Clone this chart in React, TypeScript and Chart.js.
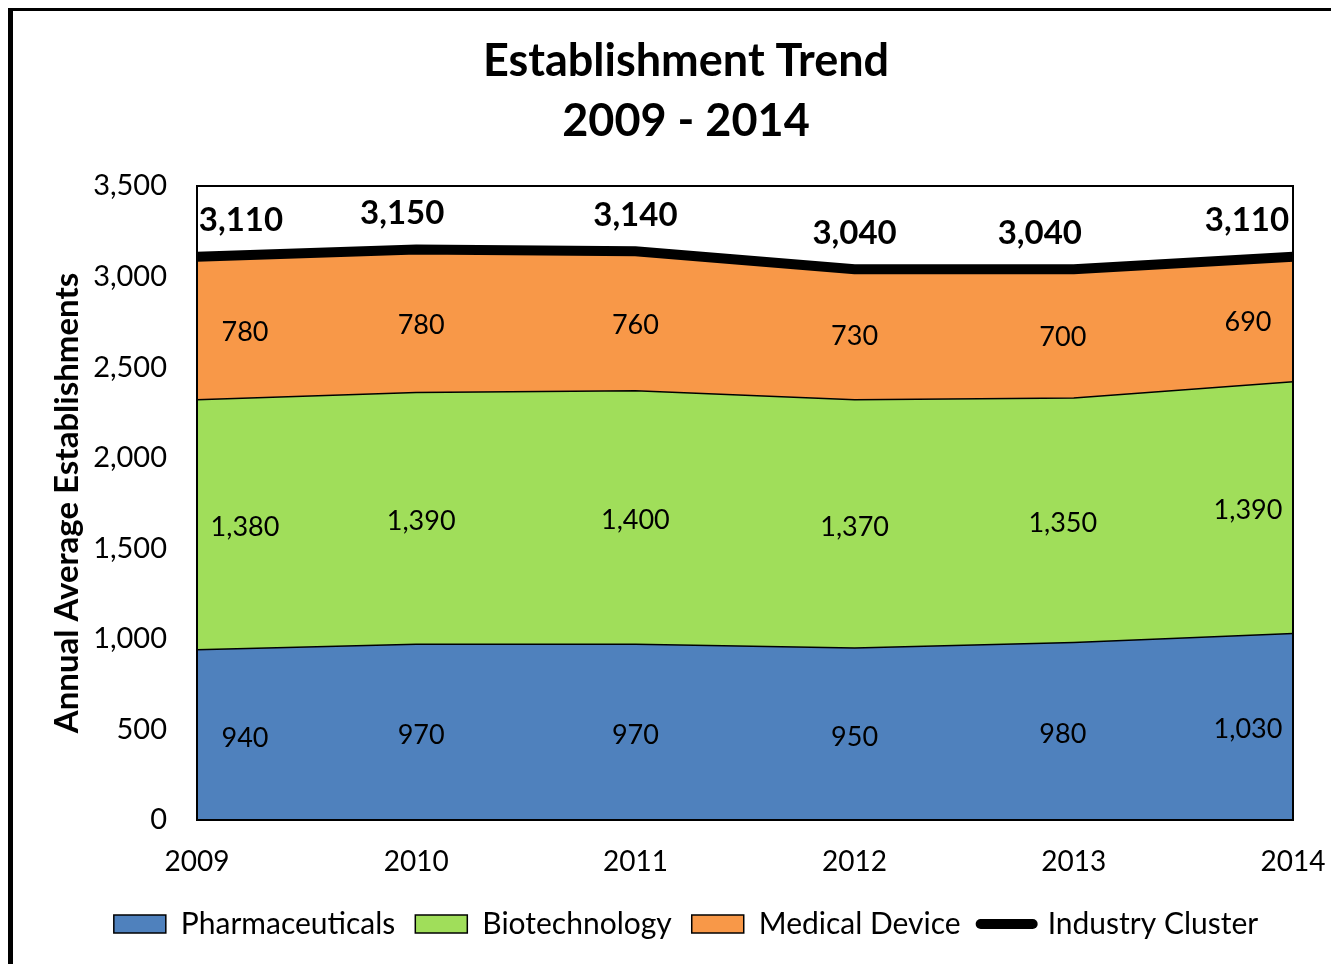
import React, { useEffect, useRef } from "react";
import { Chart, registerables } from "chart.js";

Chart.register(...registerables);

const years = ["2009", "2010", "2011", "2012", "2013", "2014"];
const pharmaceuticals = [940, 970, 970, 950, 980, 1030];
const biotechnology = [1380, 1390, 1400, 1370, 1350, 1390];
const medicalDevice = [780, 780, 760, 730, 700, 690];
const industryCluster = [3110, 3150, 3140, 3040, 3040, 3110];
const seriesNames = ["Pharmaceuticals", "Biotechnology", "Medical Device", "Industry Cluster"];
const titleLines = ["Establishment Trend", "2009 - 2014"];
const yAxisTitle = "Annual Average Establishments";

const FONT = "Lato, 'Open Sans', sans-serif";
const BLUE = "#4F81BD";
const GREEN = "#A0DE5A";
const ORANGE = "#F89848";

// label placement nudges (pixels) per category, mimicking the original's label layout
const bandLabelShift = [48, 5, 0, 0, -11, -45];
const totalLabelShift = [44, -14, 0, 0, -34, -46];

const fmt = (v: number) => Number(v).toLocaleString("en-US");

const labelsPlugin = {
  id: "areaLabels",
  afterDatasetsDraw(chart: any) {
    const { ctx, chartArea, scales } = chart;
    const xs = scales.x;
    const ys = scales.y;
    ctx.save();
    ctx.strokeStyle = "#000";
    ctx.lineWidth = 2;
    ctx.strokeRect(chartArea.left, chartArea.top, chartArea.right - chartArea.left, chartArea.bottom - chartArea.top);

    const stacks = [pharmaceuticals, biotechnology, medicalDevice];
    const n = years.length;
    ctx.fillStyle = "#000";
    ctx.textAlign = "center";
    ctx.textBaseline = "middle";
    ctx.font = `27px ${FONT}`;
    for (let j = 0; j < n; j++) {
      let base = 0;
      for (let s = 0; s < stacks.length; s++) {
        const v = stacks[s][j];
        const y = ys.getPixelForValue(base + v / 2) + 3;
        const x = xs.getPixelForValue(j) + bandLabelShift[j];
        ctx.fillText(fmt(v), x, y);
        base += v;
      }
    }
    ctx.font = `bold 33px ${FONT}`;
    for (let j = 0; j < n; j++) {
      const v = industryCluster[j];
      const y = ys.getPixelForValue(v) - 36;
      const x = xs.getPixelForValue(j) + totalLabelShift[j];
      ctx.fillText(fmt(v), x, y);
    }
    ctx.restore();
  },
};

export default function App() {
  const ref = useRef<HTMLCanvasElement | null>(null);
  useEffect(() => {
    document.documentElement.style.overflow = "hidden";
    document.body.style.overflow = "hidden";
    const c = ref.current;
    if (!c) return;
    const chart = new Chart(c, {
      type: "line",
      data: {
        labels: years,
        datasets: [
          {
            label: seriesNames[0],
            data: pharmaceuticals,
            backgroundColor: BLUE,
            borderColor: "#000",
            borderWidth: 1.5,
            fill: "origin",
            pointRadius: 0,
            stack: "a",
          },
          {
            label: seriesNames[1],
            data: biotechnology,
            backgroundColor: GREEN,
            borderColor: "#000",
            borderWidth: 1.5,
            fill: "-1",
            pointRadius: 0,
            stack: "a",
          },
          {
            label: seriesNames[2],
            data: medicalDevice,
            backgroundColor: ORANGE,
            borderColor: "#000",
            borderWidth: 1.5,
            fill: "-1",
            pointRadius: 0,
            stack: "a",
          },
          {
            label: seriesNames[3],
            data: industryCluster,
            borderColor: "#000",
            backgroundColor: "#000",
            borderWidth: 10,
            fill: false,
            pointRadius: 0,
            stack: "b",
            order: -1,
          },
        ],
      },
      options: {
        animation: false,
        responsive: true,
        maintainAspectRatio: false,
        layout: { padding: { left: 66, right: 46, top: 0, bottom: 15 } },
        plugins: {
          filler: { drawTime: "beforeDatasetsDraw" },
          tooltip: { enabled: false },
          title: {
            display: true,
            text: titleLines,
            color: "#000",
            font: { family: FONT, size: 45, weight: "bold", lineHeight: 60 / 45 },
            padding: { top: 20, bottom: 35 },
          },
          legend: {
            position: "bottom",
            labels: {
              usePointStyle: true,
              pointStyleWidth: 52,
              boxHeight: 18,
              padding: 20,
              color: "#000",
              font: { family: FONT, size: 30 },
              generateLabels: () => [
                { text: seriesNames[0], fillStyle: BLUE, strokeStyle: "#000", lineWidth: 1.5, pointStyle: "rect", datasetIndex: 0, fontColor: "#000" },
                { text: seriesNames[1], fillStyle: GREEN, strokeStyle: "#000", lineWidth: 1.5, pointStyle: "rect", datasetIndex: 1, fontColor: "#000" },
                { text: seriesNames[2], fillStyle: ORANGE, strokeStyle: "#000", lineWidth: 1.5, pointStyle: "rect", datasetIndex: 2, fontColor: "#000" },
                { text: seriesNames[3], fillStyle: "#000", strokeStyle: "#000", lineWidth: 10, lineCap: "round", pointStyle: "line", datasetIndex: 3, fontColor: "#000" },
              ] as any,
            },
          },
        },
        scales: {
          x: {
            grid: { display: false, drawTicks: false },
            border: { display: false },
            ticks: { color: "#000", font: { family: FONT, size: 28 }, padding: 25, maxRotation: 0 },
            afterFit: (s: any) => {
              s.height = 69;
              s.paddingLeft = 0;
              s.paddingRight = 0;
            },
          },
          y: {
            stacked: true,
            min: 0,
            max: 3500,
            grid: { display: false, drawTicks: false },
            border: { display: false },
            ticks: {
              stepSize: 500,
              padding: 30,
              color: "#000",
              font: { family: FONT, size: 29 },
              callback: (v: any) => fmt(Number(v)),
            },
            title: {
              display: true,
              text: yAxisTitle,
              color: "#000",
              font: { family: FONT, size: 33, weight: "bold" },
              padding: { top: -31, bottom: 0 },
            },
            afterFit: (s: any) => {
              s.width = 118;
            },
          },
        },
      },
      plugins: [labelsPlugin],
    });
    return () => chart.destroy();
  }, []);

  return (
    <div style={{ position: "relative", top: -2, width: 1400, height: 1000 }}>
      <div
        style={{
          position: "absolute",
          left: 0,
          top: 0,
          width: 1400,
          height: 1000,
          border: "5px solid #000",
          boxSizing: "border-box",
          background: "#fff",
        }}
      />
      <div style={{ position: "absolute", left: 5, top: 5, width: 1326, height: 953 }}>
        <canvas ref={ref} />
      </div>
    </div>
  );
}
